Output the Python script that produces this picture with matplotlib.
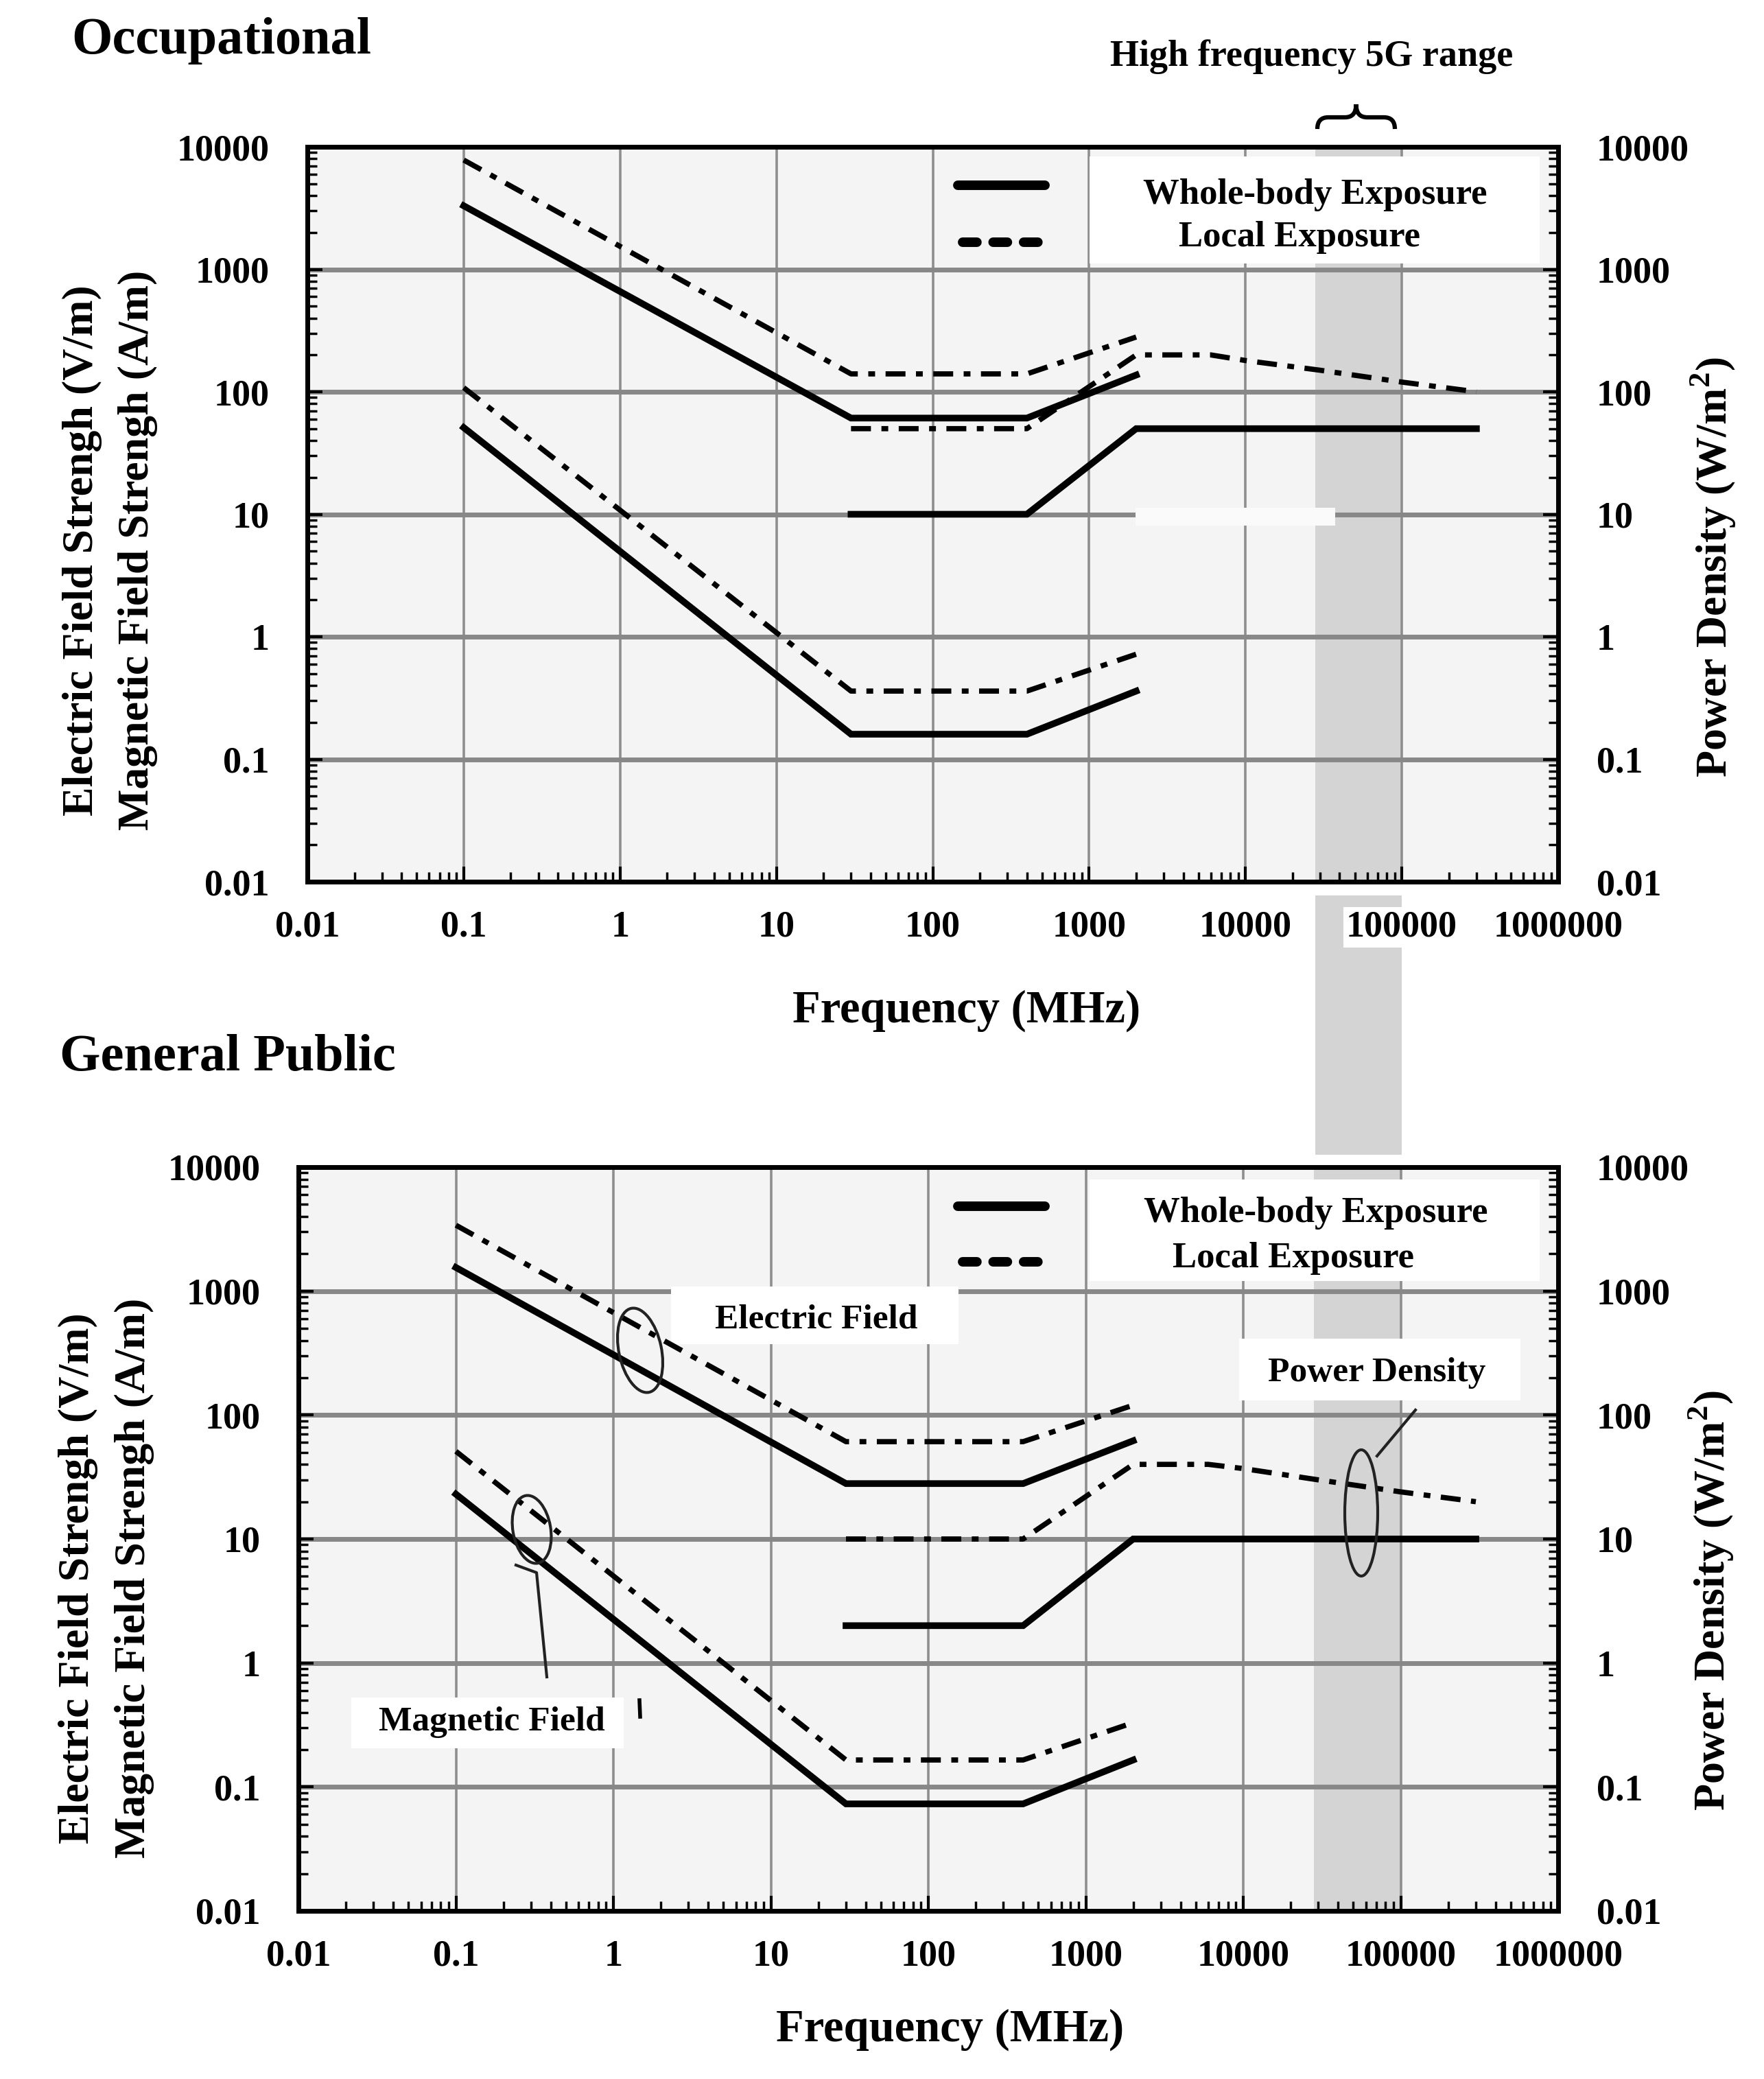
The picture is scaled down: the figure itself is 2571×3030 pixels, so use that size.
import numpy as np
import matplotlib
matplotlib.use("Agg")
import matplotlib.pyplot as plt
import matplotlib.transforms as mtransforms
from matplotlib.patches import Rectangle, Ellipse, PathPatch
from matplotlib.path import Path
from matplotlib.ticker import FixedLocator, FixedFormatter, LogLocator, NullFormatter

plt.rcParams["font.family"] = ["Liberation Serif", "DejaVu Serif"]
plt.rcParams["font.weight"] = "bold"
plt.rcParams["mathtext.fontset"] = "custom"
plt.rcParams["mathtext.rm"] = "Liberation Serif:bold"
plt.rcParams["mathtext.bf"] = "Liberation Serif:bold"

# ── data (frequency in MHz) ──────────────────────────────────────────────────
FIELD_FREQ = [0.1, 30, 400, 2000]
PD_FREQ_WHOLE = [30, 400, 2000, 300000]
PD_FREQ_LOCAL = [30, 400, 2000, 6000, 10000, 30000, 100000, 300000]

# Occupational
occ_E_whole = [3300, 61, 61, 137]
occ_E_local = [7800, 140, 140, 280]
occ_H_whole = [51, 0.16, 0.16, 0.36]
occ_H_local = [108, 0.36, 0.36, 0.72]
occ_S_whole = [10, 10, 50, 50]
occ_S_local = [50, 50, 200, 200, 180, 150, 120, 100]

# General public
gp_E_whole = [1550, 28, 28, 62]
gp_E_local = [3400, 61, 61, 120]
gp_H_whole = [23, 0.073, 0.073, 0.165]
gp_H_local = [51, 0.165, 0.165, 0.33]
gp_S_whole = [2, 2, 10, 10]
gp_S_local = [10, 10, 40, 40, 37, 30, 24, 20]

BAND_5G = (28000, 100000)

X_TICKS = [0.01, 0.1, 1, 10, 100, 1000, 10000, 100000, 1000000]
X_LABELS = ["0.01", "0.1", "1", "10", "100", "1000", "10000", "100000", "1000000"]
Y_TICKS = [0.01, 0.1, 1, 10, 100, 1000, 10000]
Y_LABELS = ["0.01", "0.1", "1", "10", "100", "1000", "10000"]

# ── figure / pixel helpers ───────────────────────────────────────────────────
W, H, DPI = 2571, 3030, 100
fig = plt.figure(figsize=(W / DPI, H / DPI), dpi=DPI)
pix = mtransforms.Affine2D().scale(1.0 / DPI) + fig.dpi_scale_trans


def P(x, y):
    """image pixel coords (y down) -> display coords"""
    return (x, H - y)


def ax_rect(l, t, r, b):
    return [l / W, 1 - b / H, (r - l) / W, (b - t) / H]


ax1 = fig.add_axes(ax_rect(448, 214, 2271, 1285))
ax2 = fig.add_axes(ax_rect(435, 1701, 2271, 2785))

BG = "#f4f4f4"
TICK_FS = 39


def style_axes(ax):
    ax.set_xscale("log")
    ax.set_yscale("log")
    ax.set_xlim(0.01, 1e6)
    ax.set_ylim(0.01, 1e4)
    ax.set_facecolor(BG)
    ax.set_axisbelow(True)
    ax.xaxis.set_major_locator(FixedLocator(X_TICKS))
    ax.xaxis.set_major_formatter(FixedFormatter(X_LABELS))
    ax.yaxis.set_major_locator(FixedLocator(Y_TICKS))
    ax.yaxis.set_major_formatter(FixedFormatter(Y_LABELS))
    ax.xaxis.set_minor_locator(LogLocator(base=10, subs=np.arange(2, 10), numticks=20))
    ax.yaxis.set_minor_locator(LogLocator(base=10, subs=np.arange(2, 10), numticks=20))
    ax.xaxis.set_minor_formatter(NullFormatter())
    ax.yaxis.set_minor_formatter(NullFormatter())
    ax.grid(True, which="major", axis="x", color="#8e8e8e", lw=2.6)
    ax.grid(True, which="major", axis="y", color="#888888", lw=5)
    for s in ax.spines.values():
        s.set_linewidth(5)
        s.set_color("black")
    ax.tick_params(which="both", direction="in", top=False, bottom=True,
                   left=True, right=True, labelright=True, labelsize=TICK_FS,
                   color="black")
    ax.tick_params(which="major", length=16, width=3)
    ax.tick_params(which="minor", length=10, width=2.5)
    ax.tick_params(axis="x", pad=30)
    ax.tick_params(axis="y", pad=40)
    ax.axvspan(*BAND_5G, color="#d4d4d4", lw=0, zorder=0.3)


def draw_limits(ax, E_w, E_l, H_w, H_l, S_w, S_l):
    dd = dict(color="black", lw=5.5, dashes=[3.8, 2, 1.3, 2], zorder=4)
    sd = dict(color="black", lw=7, zorder=4, solid_joinstyle="miter")
    ax.plot(FIELD_FREQ, E_l, **dd)
    ax.plot(FIELD_FREQ, H_l, **dd)
    ax.plot(PD_FREQ_LOCAL, S_l, **dd)
    ax.plot(FIELD_FREQ, E_w, **sd)
    ax.plot(FIELD_FREQ, H_w, **sd)
    ax.plot(PD_FREQ_WHOLE, S_w, **sd)


def white_box(ax, l, t, r, b, z=3):
    ax.add_patch(Rectangle(P(l, b), r - l, b - t, transform=pix,
                           facecolor="white", edgecolor="none", zorder=z))


def legend(ax, box, y_solid, y_dash, y_t1, y_t2, x_t1, x_t2):
    white_box(ax, *box)
    x0, x1 = 1396, 1523
    ax.plot([P(x0, 0)[0], P(x1, 0)[0]], [H - y_solid] * 2, transform=pix,
            color="black", lw=10, solid_capstyle="round", zorder=5, clip_on=False)
    ax.plot([1403, 1516], [H - y_dash] * 2, transform=pix, color="black",
            lw=10, dashes=(1.5, 1.7), dash_capstyle="round", zorder=5, clip_on=False)
    ax.text(*P(x_t1, y_t1), "Whole-body Exposure", transform=pix, fontsize=38,
            ha="center", va="baseline", zorder=6)
    ax.text(*P(x_t2, y_t2), "Local Exposure", transform=pix, fontsize=38,
            ha="center", va="baseline", zorder=6)


# ── Occupational ─────────────────────────────────────────────────────────────
style_axes(ax1)
draw_limits(ax1, occ_E_whole, occ_E_local, occ_H_whole, occ_H_local,
            occ_S_whole, occ_S_local)
legend(ax1, (1588, 228, 2244, 384), 270, 353, 297, 359, 1917, 1894)
# gap in grid line (as in source figure)
ax1.add_patch(Rectangle(P(1655, 766), 291, 26, transform=pix,
                        facecolor="#fafafa", edgecolor="none", zorder=0.6))
ax1.xaxis.get_major_ticks()[7].label1.set_bbox(
    dict(facecolor="white", edgecolor="none", pad=3))

# ── General public ───────────────────────────────────────────────────────────
style_axes(ax2)
draw_limits(ax2, gp_E_whole, gp_E_local, gp_H_whole, gp_H_local,
            gp_S_whole, gp_S_local)
legend(ax2, (1588, 1719, 2244, 1867), 1758, 1839, 1781, 1847, 1918, 1885)

white_box(ax2, 978, 1875, 1397, 1959, z=2.5)
ax2.text(*P(1190, 1935), "Electric Field", transform=pix, fontsize=37,
         ha="center", va="baseline", zorder=6)
white_box(ax2, 1806, 1951, 2216, 2041, z=2.5)
ax2.text(*P(2007, 2013), "Power Density", transform=pix, fontsize=37,
         ha="center", va="baseline", zorder=6)
white_box(ax2, 512, 2474, 909, 2548, z=2.5)
ax2.text(*P(717, 2522), "Magnetic Field", transform=pix, fontsize=37,
         ha="center", va="baseline", zorder=6)

ell = dict(transform=pix, fill=False, edgecolor="#222222", lw=3, zorder=5)
ax2.add_patch(Ellipse(P(933, 1968), 62, 125, angle=12, **ell))
ax2.add_patch(Ellipse(P(775, 2229), 55, 100, angle=10, **ell))
ax2.add_patch(Ellipse(P(1984, 2205), 48, 184, **ell))
lead = dict(transform=pix, color="#222222", lw=3, zorder=5)
ax2.plot([752, 782, 797], [H - 2281, H - 2292, H - 2444], **lead)
ax2.plot([2007, 2063], [H - 2122, H - 2055], **lead)
fig.add_artist(plt.Line2D([932, 933], [H - 2478, H - 2502], transform=pix,
                          color="black", lw=4))

# ── band between the two panels ──────────────────────────────────────────────
band_tr = mtransforms.blended_transform_factory(ax1.transData, pix)
fig.add_artist(Rectangle((BAND_5G[0], H - 1683), BAND_5G[1] - BAND_5G[0],
                         1683 - 1305, transform=band_tr, facecolor="#d4d4d4",
                         edgecolor="none", zorder=-1))

# brace above the band
bx0, bx1, byb, byt, bym = 1920, 2033, 188, 152, 171
bxm = (bx0 + bx1) / 2
verts = [P(bx0, byb), P(bx0, bym), P(bx0 + 16, bym), P(bxm - 16, bym),
         P(bxm, bym), P(bxm, byt), P(bxm, bym), P(bxm + 16, bym),
         P(bx1 - 16, bym), P(bx1, bym), P(bx1, byb)]
codes = [Path.MOVETO, Path.CURVE3, Path.CURVE3, Path.LINETO,
         Path.CURVE3, Path.CURVE3, Path.CURVE3, Path.CURVE3,
         Path.LINETO, Path.CURVE3, Path.CURVE3]
fig.add_artist(PathPatch(Path(verts, codes), transform=pix, fill=False,
                         lw=4.5, edgecolor="black"))

# ── titles and axis labels ───────────────────────────────────────────────────
fig.text(*P(104, 78), "Occupational", transform=pix, fontsize=55,
         ha="left", va="baseline")
fig.text(*P(87, 1560), "General Public", transform=pix, fontsize=55,
         ha="left", va="baseline")
fig.text(*P(1912, 96), "High frequency 5G range", transform=pix, fontsize=39,
         ha="center", va="baseline")

for xl_y, xl_x in [(1473, 1409), (2958, 1385)]:
    fig.text(*P(xl_x, xl_y), "Frequency (MHz)", transform=pix, fontsize=48,
             ha="center", va="center")

for (xe, xm, yc) in [(120, 201, 802), (114, 196, 2300)]:
    fig.text(*P(xe, yc), "Electric Field Strengh (V/m)", transform=pix,
             fontsize=46, rotation=90, ha="center", va="center")
    fig.text(*P(xm, yc), "Magnetic Field Strengh (A/m)", transform=pix,
             fontsize=46, rotation=90, ha="center", va="center")

for (xr, yr) in [(2497, 827), (2494, 2333)]:
    fig.text(*P(xr, yr), r"Power Density (W/m$^{2}$)", transform=pix,
             fontsize=46, rotation=90, ha="center", va="center")

fig.savefig("out.png", dpi=DPI, facecolor="white")
